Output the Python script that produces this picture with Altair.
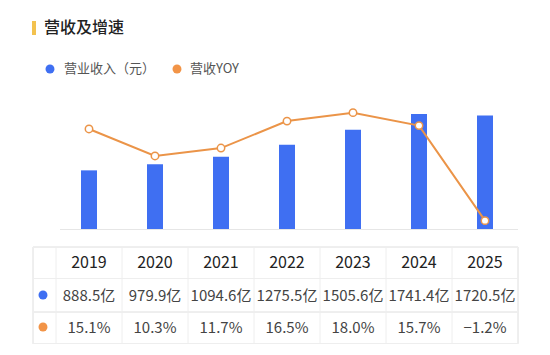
import altair as alt
import pandas as pd

years = ["2019", "2020", "2021", "2022", "2023", "2024", "2025"]
revenue = [888.5, 979.9, 1094.6, 1275.5, 1505.6, 1741.4, 1720.5]
yoy = [15.1, 10.3, 11.7, 16.5, 18.0, 15.7, -1.2]
revenue_labels = ["888.5亿", "979.9亿", "1094.6亿", "1275.5亿", "1505.6亿", "1741.4亿", "1720.5亿"]
yoy_labels = ["15.1%", "10.3%", "11.7%", "16.5%", "18.0%", "15.7%", "−1.2%"]

title_text = "营收及增速"
legend_labels = ["营业收入（元）", "营收YOY"]

BLUE = "#3F6FF2"
ORANGE = "#EB9448"
FONT = "Noto Sans CJK SC"
GRID = "#EEEEEE"

df = pd.DataFrame({
    "year": years,
    "revenue": revenue,
    "yoy": yoy,
    "rev_label": revenue_labels,
    "yoy_label": yoy_labels,
})

base = alt.Chart(df)
xband = alt.X("year:O", axis=None,
              scale=alt.Scale(range=[48, 510], paddingInner=0, paddingOuter=0))

bars = base.mark_bar(width=16, color=BLUE).encode(
    x=xband,
    y=alt.Y("revenue:Q", axis=None, scale=alt.Scale(domain=[0, 2000], range=[221, 89])),
)

yoy_scale = alt.Scale(domain=[-5, 20], range=[234, 93.4])
line = base.mark_line(color=ORANGE, strokeWidth=2).encode(
    x=xband,
    y=alt.Y("yoy:Q", axis=None, scale=yoy_scale),
)
pts = base.mark_point(filled=True, fill="white", stroke=ORANGE, strokeWidth=1.5, size=55, opacity=1).encode(
    x=xband,
    y=alt.Y("yoy:Q", axis=None, scale=yoy_scale),
)

lines_layer = alt.layer(line, pts)

baseline = base.mark_rule(color="#E6E6E6", strokeWidth=1).encode(
    x=alt.value(52), x2=alt.value(510), y=alt.value(221.5)
)

# table grid
hlines = []
for yy in [239, 270.5, 304, 335.5]:
    hlines.append(base.mark_rule(color=GRID, strokeWidth=1).encode(
        x=alt.value(25), x2=alt.value(510), y=alt.value(yy)))
vlines_years = base.mark_rule(color=GRID, strokeWidth=1).encode(
    x=alt.X("year:O", axis=None, bandPosition=0,
            scale=alt.Scale(range=[48, 510], paddingInner=0, paddingOuter=0)),
    y=alt.value(239), y2=alt.value(335.5),
)
vline_left = base.mark_rule(color=GRID, strokeWidth=1).encode(
    x=alt.value(25), y=alt.value(239), y2=alt.value(335.5))
vline_right = base.mark_rule(color=GRID, strokeWidth=1).encode(
    x=alt.value(510), y=alt.value(239), y2=alt.value(335.5))

header = base.mark_text(font=FONT, fontSize=16, fontWeight="normal", color="#222222").encode(
    x=xband, y=alt.value(255), text="year:N")
row_rev = base.mark_text(font=FONT, fontSize=15, color="#444444").encode(
    x=xband, y=alt.value(287.5), text="rev_label:N")
row_yoy = base.mark_text(font=FONT, fontSize=15, color="#444444").encode(
    x=xband, y=alt.value(319.5), text="yoy_label:N")

one = alt.Chart(pd.DataFrame({"k": [0]}))
dot_rev = one.mark_circle(color=BLUE, size=80, opacity=1).encode(x=alt.value(35), y=alt.value(287))
dot_yoy = one.mark_circle(color="#F29447", size=80, opacity=1).encode(x=alt.value(35), y=alt.value(319))

# title
title_bar = one.mark_rule(color="#F3C24F", strokeWidth=4).encode(
    x=alt.value(26), y=alt.value(13), y2=alt.value(27))
title = one.mark_text(font=FONT, fontSize=16, fontWeight=500, color="#222222", align="left").encode(
    x=alt.value(36), y=alt.value(20), text=alt.value(title_text))

# legend
leg_dot1 = one.mark_circle(color=BLUE, size=80, opacity=1).encode(x=alt.value(42), y=alt.value(61))
leg_txt1 = one.mark_text(font=FONT, fontSize=13, color="#555555", align="left").encode(
    x=alt.value(56), y=alt.value(61), text=alt.value(legend_labels[0]))
leg_dot2 = one.mark_circle(color="#F29447", size=80, opacity=1).encode(x=alt.value(169), y=alt.value(61))
leg_txt2 = one.mark_text(font=FONT, fontSize=13, color="#555555", align="left").encode(
    x=alt.value(182), y=alt.value(61), text=alt.value(legend_labels[1]))

chart = alt.layer(
    baseline, bars, lines_layer,
    *hlines, vlines_years, vline_left, vline_right,
    header, row_rev, row_yoy, dot_rev, dot_yoy,
    title_bar, title, leg_dot1, leg_txt1, leg_dot2, leg_txt2,
).resolve_scale(y="independent").properties(
    width=534, height=339, padding=0, background="white"
).configure_view(stroke=None)

chart.save("out.html", embed_options={"renderer": "svg", "actions": False})
